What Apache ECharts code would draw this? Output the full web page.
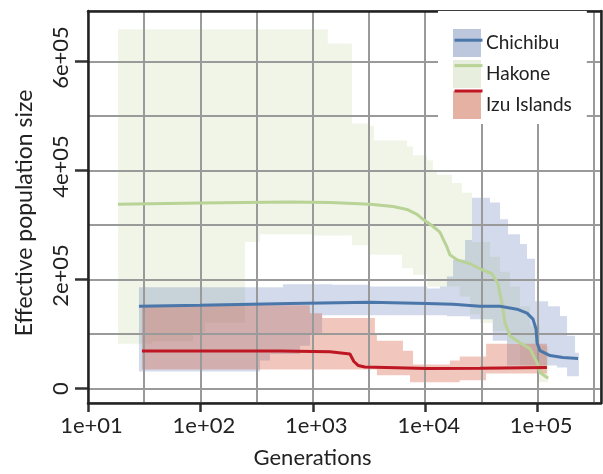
<!DOCTYPE html>
<html><head><meta charset="utf-8">
<script src="https://cdn.jsdelivr.net/npm/echarts@6/dist/echarts.min.js"></script>
<style>html,body{margin:0;padding:0;background:#fff}#c{width:603px;height:474px}</style>
</head><body><div id="c"></div>
<script>
// ---------- data ----------
const categories = ['Chichibu', 'Hakone', 'Izu Islands'];
const xTickValues = [10, 100, 1000, 10000, 100000];
const xTickLabels = ['1e+01', '1e+02', '1e+03', '1e+04', '1e+05'];
const yTickValues = [0, 200000, 400000, 600000];
const yTickLabels = ['0', '2e+05', '4e+05', '6e+05'];

// median lines: generations / effective population size
const chichibuGen = [28.4, 99, 627, 3230, 10400, 17700, 30700, 46300, 65600, 80500, 91000, 96800, 98800, 105000, 129000, 168000, 229000];
const chichibuNe  = [150900, 152700, 155800, 158200, 155800, 154500, 150900, 150900, 145500, 138200, 127300, 109200, 83900, 69400, 60400, 56700, 54900];

const hakoneGen = [18.5, 99, 627, 1420, 3230, 5180, 6890, 8450, 9560, 11700, 13500, 15600, 16600, 19200, 25100, 32000, 39300, 44400, 48200, 51300, 56800, 69700, 85500, 98800, 105000, 124000];
const hakoneNe  = [338000, 340200, 342400, 341100, 338000, 333900, 328500, 319400, 310400, 297700, 286900, 259700, 245200, 236100, 228900, 217900, 210700, 192600, 156300, 120100, 96600, 83900, 73100, 47800, 29500, 18700];

const izuGen = [30.2, 510, 1420, 2140, 2320, 2530, 2900, 10400, 30700, 121000];
const izuNe  = [68800, 68800, 67600, 63400, 49500, 42300, 39500, 36500, 37300, 38600];

// confidence bands as step functions: value Y[i] holds from X[i] to X[i+1]
const chichibuUpX = [28.4, 543, 1480, 3230, 10400, 13500, 15600, 17700, 22600, 26100, 37700, 46300, 54600, 69700, 80500, 94800, 124000, 158000, 182800, 215300, 233000];
const chichibuUpY = [185900, 191300, 190200, 187100, 183500, 187100, 205300, 236100, 272300, 350200, 341100, 310400, 283200, 265100, 237900, 159900, 150900, 132800, 96600, 65800];
const chichibuLoX = [28.4, 339, 416, 770, 944, 1210, 15600, 25100, 39900, 53400, 149000, 182800, 233000];
const chichibuLoY = [31300, 51300, 63400, 78400, 99700, 134200, 132400, 127000, 87400, 42300, 38700, 22300];

const hakoneUpX = [18.5, 1360, 2230, 3160, 3500, 6890, 7790, 10400, 11700, 12700, 17300, 21200, 26100, 37700, 46300, 56800, 69700, 85500, 105000, 124000];
const hakoneUpY = [659000, 633000, 486000, 482000, 455000, 444000, 428000, 419000, 401000, 392000, 377000, 359000, 268700, 241500, 214000, 187000, 151000, 115000, 78000];
const hakoneLoX = [18.5, 37.1, 86, 110, 249, 338, 1000, 2230, 3230, 6220, 7790, 10400, 20300, 25100, 30700, 39900, 53400, 69700, 98800, 124000];
const hakoneLoY = [82100, 86200, 102600, 120700, 268700, 283200, 280800, 262700, 245400, 220600, 208600, 187100, 169000, 136400, 120100, 105600, 83900, 42300, 11400];

const izuUpX = [30.2, 941, 1210, 3570, 3720, 6340, 7790, 16600, 20300, 34800, 121000];
const izuUpY = [152700, 138200, 129500, 102000, 87400, 69300, 44000, 51300, 58600, 82100];
const izuLoX = [30.2, 3720, 7330, 20300, 34800, 121000];
const izuLoY = [35000, 24100, 11400, 15000, 27700];

// ---------- styling ----------
const lineColors = ['#4a76aa', '#b9d296', '#be1622'];
const bandColors = ['rgba(70,100,170,0.24)', 'rgba(170,200,130,0.18)', 'rgba(210,80,50,0.32)'];
const swatchColors = ['#bcc7de', '#e8eedd', '#e5b1a3'];
const FONT = 'Lato';
const TXT = '#222';
const GRID = '#9a9a9a';

const lg = v => Math.log10(v);
const xMin = 1, xMax = 5.564;
const yMin = -26600, yMax = 692600;

function bandSeries(name, ux, uy, lx, ly, color) {
  return {
    type: 'custom', name: name, z: -1, silent: true, animation: false,
    itemStyle: { color: color },
    data: [[lg(ux[0]), ly[0]]],
    renderItem: function (params, api) {
      const pts = [];
      for (let i = 0; i < uy.length; i++) {
        pts.push(api.coord([lg(ux[i]), uy[i]]));
        pts.push(api.coord([lg(ux[i + 1]), uy[i]]));
      }
      for (let i = ly.length - 1; i >= 0; i--) {
        pts.push(api.coord([lg(lx[i + 1]), ly[i]]));
        pts.push(api.coord([lg(lx[i]), ly[i]]));
      }
      return { type: 'polygon', shape: { points: pts }, style: { fill: color } };
    }
  };
}
function lineSeries(name, gen, ne, color) {
  return {
    type: 'line', name: name, showSymbol: false, symbol: 'circle', animation: false, silent: true,
    lineStyle: { color: color, width: 3 }, itemStyle: { color: color },
    data: gen.map((g, i) => [lg(g), ne[i]])
  };
}
const bandNames = categories.map(c => c + ' band');

const frameAxis = (pos, isX) => ({
  type: 'value', position: pos, min: isX ? xMin : yMin, max: isX ? xMax : yMax, z: 3,
  axisLine: { show: true, onZero: false, lineStyle: { color: '#222', width: 2.5 } },
  axisTick: { show: false }, axisLabel: { show: false }, splitLine: { show: false }
});
const gridAxis = (pos, isX) => Object.assign({
  type: 'value', position: pos, min: isX ? xMin : yMin, max: isX ? xMax : yMax, z: 0,
  axisLine: { show: false, onZero: false },
  axisTick: { show: false }, axisLabel: { show: false },
  splitLine: { show: true, lineStyle: { color: GRID, width: 2 } }
}, isX ? { interval: 0.5 } : { splitNumber: 5 });

const option = {
  backgroundColor: '#fff',
  animation: false,
  grid: { left: 88, top: 11, right: 2, bottom: 66, containLabel: false },
  xAxis: [
    {
      type: 'value', position: 'bottom', min: xMin, max: xMax, interval: 1,
      axisLine: { show: false, onZero: false },
      axisTick: { show: true, customValues: xTickValues.map(lg), length: 9, lineStyle: { color: '#333', width: 2.5 } },
      axisLabel: {
        customValues: xTickValues.map(lg), margin: 12, fontSize: 22, fontFamily: FONT, color: TXT, padding: [0, 0, 0, 7],
        formatter: v => { const i = xTickValues.map(lg).findIndex(t => Math.abs(t - v) < 1e-6); return i < 0 ? '' : xTickLabels[i]; }
      },
      splitLine: { show: false },
      name: 'Generations', nameLocation: 'middle', nameGap: 44,
      nameTextStyle: { fontSize: 22, fontFamily: FONT, color: TXT, padding: [0, 64, 0, 0] }
    },
    gridAxis('bottom', true),
    frameAxis('bottom', true),
    frameAxis('top', true)
  ],
  yAxis: [
    {
      type: 'value', position: 'left', min: yMin, max: yMax, splitNumber: 5,
      axisLine: { show: false, onZero: false },
      axisTick: { show: true, customValues: yTickValues, length: 13, lineStyle: { color: '#333', width: 2.5 } },
      axisLabel: {
        customValues: yTickValues, rotate: 90, margin: 16, color: TXT, fontSize: 22, fontFamily: FONT,
        formatter: v => { const i = yTickValues.indexOf(v); if (i < 0) return ''; return i === 0 ? '{z|' + yTickLabels[i] + '}' : '{e|' + yTickLabels[i] + '}'; },
        rich: {
          z: { fontSize: 22, fontFamily: FONT, color: TXT },
          e: { fontSize: 22, fontFamily: FONT, color: TXT, padding: [0, 0, 0, 8] }
        }
      },
      splitLine: { show: false },
      name: 'Effective population size', nameLocation: 'middle', nameRotate: 90, nameGap: 52,
      nameTextStyle: { fontSize: 23, fontFamily: FONT, color: TXT, padding: [0, 12, 0, 0] }
    },
    gridAxis('left', false),
    frameAxis('left', false),
    frameAxis('right', false)
  ],
  legend: [
    {
      left: 438, top: 11, orient: 'vertical', padding: [18, 15, 5, 15], backgroundColor: '#fff',
      itemWidth: 28, itemHeight: 28, itemGap: 3, icon: 'rect', selectedMode: false, z: 4,
      textStyle: { fontSize: 19, fontFamily: FONT, color: TXT },
      formatter: n => n.replace(' band', ''),
      data: bandNames.map((n, i) => ({ name: n, itemStyle: { color: swatchColors[i] } }))
    },
    {
      left: 453, top: 29, orient: 'vertical', padding: 0,
      itemWidth: 28, itemHeight: 28, itemGap: 3, selectedMode: false, z: 5,
      textStyle: { fontSize: 19, fontFamily: FONT, color: 'rgba(0,0,0,0)' },
      lineStyle: { width: 3 }, itemStyle: { opacity: 0 },
      data: categories
    }
  ],
  series: [
    bandSeries(bandNames[1], hakoneUpX, hakoneUpY, hakoneLoX, hakoneLoY, bandColors[1]),
    bandSeries(bandNames[0], chichibuUpX, chichibuUpY, chichibuLoX, chichibuLoY, bandColors[0]),
    bandSeries(bandNames[2], izuUpX, izuUpY, izuLoX, izuLoY, bandColors[2]),
    lineSeries(categories[1], hakoneGen, hakoneNe, lineColors[1]),
    lineSeries(categories[2], izuGen, izuNe, lineColors[2]),
    lineSeries(categories[0], chichibuGen, chichibuNe, lineColors[0])
  ]
};
const chart = echarts.init(document.getElementById('c'), null, { renderer: 'canvas' });
chart.setOption(option);
</script></body></html>
